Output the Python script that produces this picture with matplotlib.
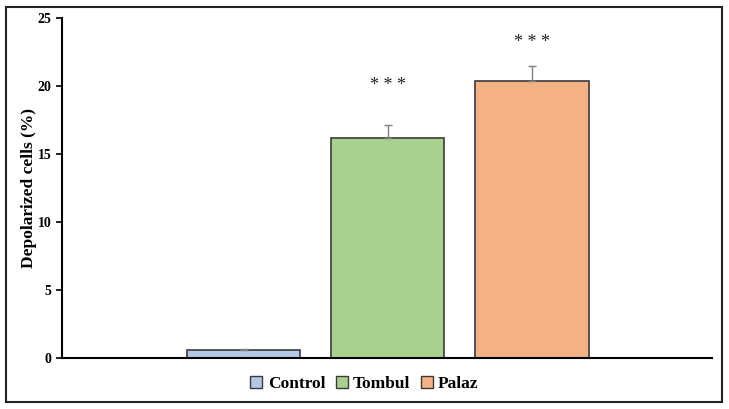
import matplotlib
matplotlib.use("Agg")
import matplotlib.pyplot as plt
from matplotlib.patches import Rectangle, Patch

groups = ["Control", "Tombul", "Palaz"]
values = [0.6, 16.2, 20.4]
errors = [0.08, 0.95, 1.05]
stars = ["", "***", "***"]
star_y = [0, 20.0, 23.2]
colors = ["#b4c7e7", "#a9d18e", "#f4b183"]

plt.rcParams["font.family"] = ["Liberation Serif", "DejaVu Serif"]
plt.rcParams["font.weight"] = "bold"

fig = plt.figure(figsize=(7.29, 4.09), dpi=100)
ax = fig.add_axes([0.085, 0.125, 0.892, 0.831])

x = list(range(len(groups)))
ax.bar(x, values, width=0.785, color=colors, edgecolor="#3a3a3a", linewidth=1.2, zorder=2)
ax.errorbar(x, values, yerr=[[0] * len(errors), errors], fmt="none",
            ecolor="#7f7f7f", elinewidth=1, capsize=3, capthick=1, zorder=3)

for xi, sy, s in zip(x, star_y, stars):
    if s:
        ax.text(xi, sy, " ".join(s), ha="center", va="center", fontsize=13,
                fontweight="normal", color="#222222")

ax.set_xlim(-1.26, 3.25)
ax.set_ylim(0, 25)
ax.set_yticks([0, 5, 10, 15, 20, 25])
ax.set_xticks([])
ax.set_ylabel("Depolarized cells (%)", fontsize=12.5, fontweight="bold")
ax.yaxis.set_label_coords(-0.039, 0.5)
ax.tick_params(axis="y", labelsize=10, length=4, width=1.2, direction="out")
for lbl in ax.get_yticklabels():
    lbl.set_fontweight("bold")
ax.spines["top"].set_visible(False)
ax.spines["right"].set_visible(False)
ax.spines["left"].set_linewidth(1.5)
ax.spines["bottom"].set_linewidth(1.5)

handles = [Patch(facecolor=c, edgecolor="#3a3a3a", label=g) for g, c in zip(groups, colors)]
fig.legend(handles=handles, loc="center", bbox_to_anchor=(0.5, 0.062), ncol=3,
           frameon=False, handlelength=0.7, handleheight=0.7,
           handletextpad=0.3, columnspacing=0.6, prop={"weight": "bold", "size": 12.5})

fig.patches.append(Rectangle((0.008, 0.017), 0.983, 0.967, transform=fig.transFigure,
                             fill=False, edgecolor="#222222", linewidth=1.5))

fig.savefig("out.png", dpi=100)
